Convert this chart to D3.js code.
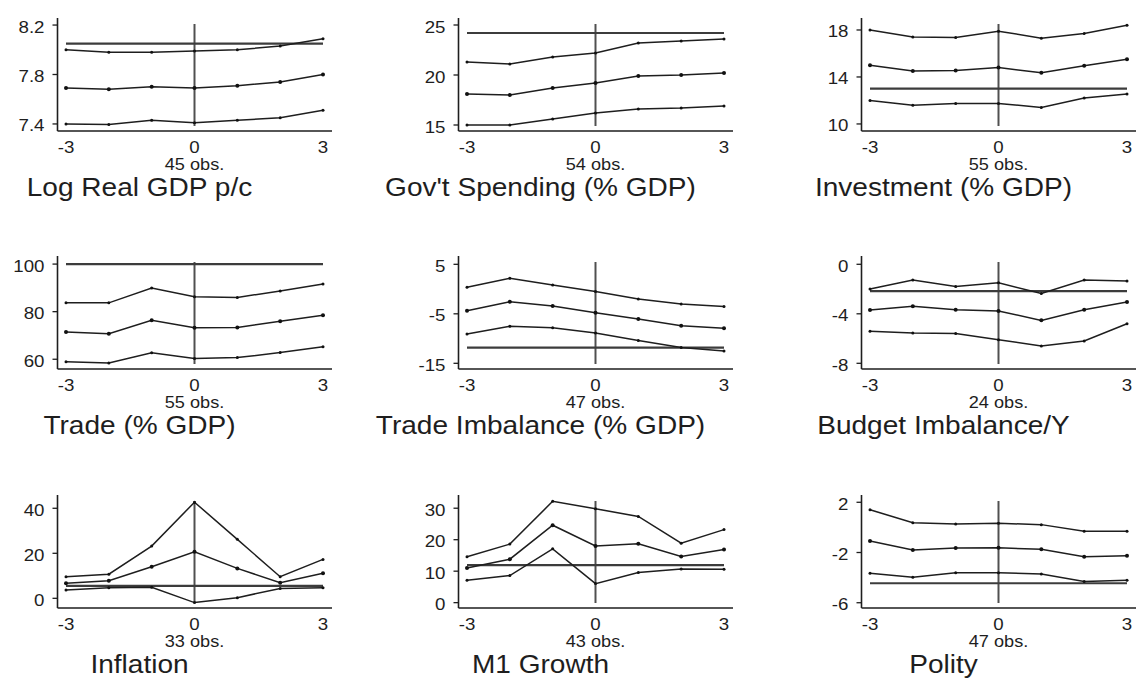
<!DOCTYPE html>
<html>
<head>
<meta charset="utf-8">
<script src="https://cdn.jsdelivr.net/npm/d3@7"></script>
<style>
  body { margin: 0; background: #fff; }
  svg text { font-family: "Liberation Sans", Arial, sans-serif; fill: #1e1e1e; }
</style>
</head>
<body>
<svg id="chart" width="1137" height="680"></svg>
<script>
// event time, years around the episode
const years = [-3, -2, -1, 0, 1, 2, 3]

const titles = [
  "Log Real GDP p/c", "Gov't Spending (% GDP)", "Investment (% GDP)",
  "Trade (% GDP)", "Trade Imbalance (% GDP)", "Budget Imbalance/Y",
  "Inflation", "M1 Growth", "Polity"
]
const obsCounts = [45, 54, 55, 55, 47, 24, 33, 43, 47]

const yTicks = [
  [7.4, 7.8, 8.2], [15, 20, 25], [10, 14, 18],
  [60, 80, 100], [-15, -5, 5], [-8, -4, 0],
  [0, 20, 40], [0, 10, 20, 30], [-6, -2, 2]
]
const yDomains = [
  [7.343, 8.257], [14.4, 25.7], [9.4, 19.02],
  [55.9, 103.4], [-16.15, 6.68], [-8.46, 0.67],
  [-4.3, 45.9], [-1.7, 34.2], [-6.42, 2.58]
]

// horizontal reference level in each panel
const refLevels = [8.05, 24.2, 13.0, 100, -11.85, -2.16, 5.5, 11.9, -4.45]

const upperBand = [
  [8.00, 7.98, 7.98, 7.99, 8.00, 8.03, 8.09],
  [21.3, 21.1, 21.8, 22.2, 23.2, 23.4, 23.6],
  [18.0, 17.4, 17.35, 17.9, 17.3, 17.7, 18.4],
  [83.8, 83.7, 89.9, 86.3, 86.0, 88.7, 91.6],
  [0.35, 2.2, 0.8, -0.5, -2.0, -3.0, -3.5],
  [-2.0, -1.27, -1.8, -1.5, -2.35, -1.27, -1.35],
  [9.6, 10.7, 23.2, 42.7, 26.2, 9.6, 17.3],
  [14.6, 18.6, 32.2, 29.8, 27.4, 18.9, 23.2],
  [1.4, 0.37, 0.27, 0.33, 0.22, -0.31, -0.31]
]
const middleLine = [
  [7.69, 7.68, 7.70, 7.69, 7.71, 7.74, 7.80],
  [18.1, 18.0, 18.7, 19.2, 19.9, 20.0, 20.2],
  [15.0, 14.5, 14.55, 14.8, 14.35, 14.95, 15.5],
  [71.5, 70.7, 76.4, 73.2, 73.3, 76.0, 78.5],
  [-4.4, -2.55, -3.4, -4.8, -6.05, -7.4, -7.9],
  [-3.7, -3.4, -3.67, -3.77, -4.53, -3.67, -3.05],
  [6.7, 7.8, 14.0, 20.7, 13.3, 6.9, 11.1],
  [11.0, 13.8, 24.6, 18.0, 18.7, 14.65, 16.9],
  [-1.08, -1.8, -1.64, -1.62, -1.75, -2.33, -2.25]
]
const lowerBand = [
  [7.40, 7.395, 7.43, 7.41, 7.43, 7.45, 7.51],
  [15.0, 15.0, 15.6, 16.2, 16.6, 16.7, 16.9],
  [12.0, 11.6, 11.75, 11.75, 11.4, 12.2, 12.55],
  [58.9, 58.4, 62.7, 60.3, 60.7, 62.8, 65.3],
  [-9.1, -7.5, -7.8, -8.9, -10.4, -11.8, -12.5],
  [-5.4, -5.55, -5.6, -6.1, -6.6, -6.2, -4.8],
  [3.7, 4.7, 4.9, -1.9, 0.3, 4.4, 4.7],
  [7.1, 8.6, 17.1, 6.05, 9.55, 10.7, 10.6],
  [-3.66, -3.98, -3.61, -3.61, -3.71, -4.3, -4.2]
]

const COL_X = [66, 467, 870]
const ROW_Y = [0, 238, 477]
const PLOT_W = 257
const AXIS_TOP = 18
const AXIS_BOTTOM = 131
const STRETCH = 1.1

const svg = d3.select('svg#chart')

function stretchedText(g, x, y, str, size, anchor) {
  return g.append('text')
    .attr('transform', `translate(${x},${y}) scale(${STRETCH},1)`)
    .attr('font-size', size + 'px')
    .attr('text-anchor', anchor)
    .text(str)
}

const fmt = v => String(v).replace('\u2212', '-')

titles.forEach((title, i) => {
  const g = svg.append('g')
    .attr('transform', `translate(${COL_X[i % 3]},${ROW_Y[Math.floor(i / 3)]})`)

  const x = d3.scaleLinear().domain([-3, 3]).range([0, PLOT_W])
  const y = d3.scaleLinear().domain(yDomains[i]).range([AXIS_BOTTOM, AXIS_TOP])
  const axisX = x(-3) - 8.5

  // y axis
  g.append('line')
    .attr('x1', axisX).attr('x2', axisX)
    .attr('y1', AXIS_TOP).attr('y2', AXIS_BOTTOM)
    .attr('stroke', '#1e1e1e').attr('stroke-width', 1.6)
  g.selectAll('.ytick')
    .data(yTicks[i])
    .enter()
    .append('line')
    .attr('x1', axisX - 5).attr('x2', axisX)
    .attr('y1', d => y(d)).attr('y2', d => y(d))
    .attr('stroke', '#1e1e1e').attr('stroke-width', 1.3)
  yTicks[i].forEach(t => {
    stretchedText(g, axisX - 13, y(t) + 7.5, fmt(t), 17, 'end')
  })

  // x axis
  g.append('line')
    .attr('x1', axisX).attr('x2', x(3) + 9)
    .attr('y1', AXIS_BOTTOM).attr('y2', AXIS_BOTTOM)
    .attr('stroke', '#1e1e1e').attr('stroke-width', 1.6)
  ;[-3, 0, 3].forEach(t => {
    stretchedText(g, x(t), AXIS_BOTTOM + 22, fmt(t), 17, 'middle')
  })

  // reference lines
  g.append('line')
    .attr('x1', x(0)).attr('x2', x(0))
    .attr('y1', AXIS_TOP + 6).attr('y2', AXIS_BOTTOM - 5)
    .attr('stroke', '#505050').attr('stroke-width', 2)
  g.append('line')
    .attr('x1', x(-3)).attr('x2', x(3))
    .attr('y1', y(refLevels[i])).attr('y2', y(refLevels[i]))
    .attr('stroke', '#3c3c3c').attr('stroke-width', 2.2)

  const line = d3.line()
    .x((d, k) => x(years[k]))
    .y(d => y(d))

  ;[upperBand[i], middleLine[i], lowerBand[i]].forEach((series, s) => {
    g.append('path')
      .attr('d', line(series))
      .attr('fill', 'none')
      .attr('stroke', '#1e1e1e')
      .attr('stroke-width', 1.5)
    g.selectAll('.pt' + s)
      .data(series)
      .enter()
      .append('circle')
      .attr('cx', (d, k) => x(years[k]))
      .attr('cy', d => y(d))
      .attr('r', s === 1 ? 2 : 1.5)
      .attr('fill', '#111')
  })

  stretchedText(g, x(0), AXIS_BOTTOM + 39, `${obsCounts[i]} obs.`, 16.5, 'middle')
  stretchedText(g, x(0) - 55, AXIS_BOTTOM + 65, title, 25.5, 'middle')
})
</script>
</body>
</html>
